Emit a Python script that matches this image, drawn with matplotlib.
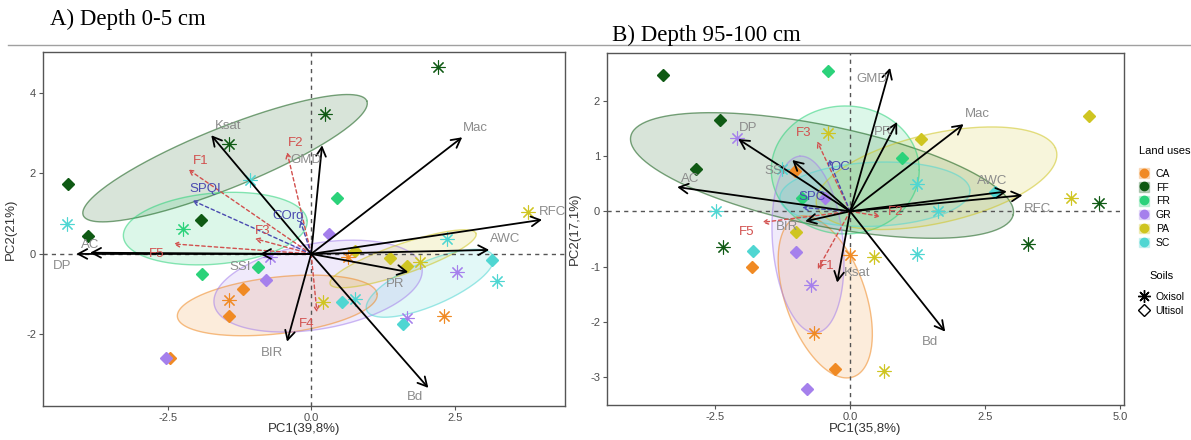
import numpy as np
import matplotlib.pyplot as plt
from matplotlib.lines import Line2D
from matplotlib.patches import Patch

plt.rcParams["font.family"] = ["Liberation Sans", "DejaVu Sans"]

USES = ["CA", "FF", "FR", "GR", "PA", "SC"]
USE_COLORS = {"CA": "#F08A24", "FF": "#0F5A14", "FR": "#2BD27A",
              "GR": "#A580EC", "PA": "#CFC521", "SC": "#4FD6D2"}

# ---- A) depth 0-5 cm : individuals ----
a_use = ["FF", "FF", "FF", "FF", "FF", "FF", "SC", "SC", "FR", "FR", "FR", "FR",
         "GR", "GR", "CA", "CA", "CA", "CA", "GR", "PA", "SC", "SC", "PA", "PA",
         "PA", "PA", "SC", "GR", "SC", "SC", "CA", "GR", "SC", "PA", "GR", "CA"]
a_soil = ["O", "O", "O", "U", "U", "U", "O", "O", "O", "U", "U", "U",
          "U", "U", "U", "O", "U", "U", "U", "O", "U", "O", "U", "U",
          "U", "O", "O", "O", "U", "O", "O", "O", "U", "O", "O", "O"]
a_pc1 = [2.21, 0.24, -1.43, -4.23, -1.92, -3.89, -4.25, -1.06, -2.23, -1.90, -0.92, 0.45,
         0.31, -0.78, -1.18, -1.43, -1.43, -2.46, -2.52, 0.21, 0.54, 0.77, 0.77, 1.38,
         1.67, 1.90, 2.37, 2.54, 3.15, 3.24, 2.32, 1.67, 1.60, 3.78, -0.71, 0.64]
a_pc2 = [4.65, 3.48, 2.73, 1.73, 0.85, 0.45, 0.75, 1.83, 0.63, -0.50, -0.33, 1.38,
         0.50, -0.65, -0.88, -1.15, -1.55, -2.58, -2.58, -1.20, -1.20, -1.13, 0.08, -0.10,
         -0.30, -0.20, 0.38, -0.45, -0.15, -0.68, -1.55, -1.60, -1.73, 1.05, -0.08, -0.08]

# ---- A) variables ----
a_var_names = ["Ksat", "GMD", "Mac", "RFC", "AWC", "PR", "Bd", "BIR", "DP", "AC", "SSI"]
a_var_pc1 = [-1.74, 0.19, 2.63, 4.02, 3.10, 1.69, 2.04, -0.42, -4.09, -3.85, -0.89]
a_var_pc2 = [2.95, 2.70, 2.90, 0.85, 0.10, -0.45, -3.33, -2.18, 0.00, 0.03, 0.00]

a_sup_names = ["F1", "F2", "F3", "F4", "F5", "SPQI", "COrg"]
a_sup_pc1 = [-2.14, -0.42, -0.98, 0.10, -2.40, -2.07, -0.19]
a_sup_pc2 = [2.10, 2.53, 0.38, -1.45, 0.25, 1.33, 0.83]

# concentration ellipses: centre, semi-axis vector, conjugate semi-axis vector
a_ellipses = {
    "FF": ((-1.50, 2.38), (2.47, 1.42), (0.19, -0.70)),
    "FR": ((-1.67, 0.63), (1.60, 0.20), (0.05, -0.88)),
    "GR": ((0.12, -0.80), (1.81, 0.45), (0.12, -1.05)),
    "CA": ((-0.59, -1.28), (1.74, 0.28), (0.05, -0.70)),
    "PA": ((1.60, -0.12), (1.27, 0.63), (0.09, -0.35)),
    "SC": ((2.07, -0.73), (1.10, 0.68), (0.16, -0.50)),
}

# ---- B) depth 95-100 cm : individuals ----
b_use = ["FF", "FR", "FF", "FF", "GR", "PA", "SC", "CA", "SC", "FR", "GR", "PA",
         "FF", "SC", "CA", "GR", "GR", "CA", "CA", "GR", "CA", "PA", "SC", "FF",
         "PA", "PA", "PA", "FF", "PA", "FR", "SC", "SC", "SC"]
b_soil = ["U", "U", "U", "U", "O", "O", "O", "U", "O", "U", "U", "U",
          "O", "U", "U", "U", "O", "O", "U", "U", "O", "O", "O", "O",
          "O", "U", "O", "O", "U", "U", "O", "U", "O"]
b_pc1 = [-3.46, -0.41, -2.41, -2.85, -2.09, -0.41, -2.48, -1.02, -1.26, -0.89, -0.46, -1.00,
         -2.35, -1.80, -1.81, -1.00, -0.72, -0.67, -0.28, -0.80, 0.00, 0.44, 1.24, 3.30,
         0.62, 4.43, 4.08, 4.60, 1.31, 0.96, 1.24, 2.69, 1.63]
b_pc2 = [2.47, 2.55, 1.65, 0.76, 1.33, 1.42, 0.00, 0.73, 0.76, 0.24, 0.24, -0.38,
         -0.65, -0.72, -1.00, -0.73, -1.33, -2.20, -2.85, -3.22, -0.80, -0.82, -0.78, -0.60,
         -2.89, 1.72, 0.25, 0.16, 1.31, 0.96, 0.49, 0.35, 0.00]

b_var_names = ["GMD", "PR", "Mac", "AWC", "RFC", "DP", "AC", "SSI", "Ksat", "Bd", "BIR"]
b_var_pc1 = [0.74, 0.87, 2.10, 2.90, 3.19, -2.07, -3.20, -1.07, -0.24, 1.76, -0.83]
b_var_pc2 = [2.60, 1.62, 1.58, 0.36, 0.29, 1.31, 0.44, 0.93, -1.29, -2.18, -0.18]

b_sup_names = ["F1", "F2", "F3", "F5", "OC", "SPC"]
b_sup_pc1 = [-0.60, 0.56, -0.61, -1.63, -0.40, -0.89]
b_sup_pc2 = [-1.05, -0.09, 1.27, -0.20, 0.95, 0.07]

b_ellipses = {
    "FF": ((-0.52, 0.65), (3.54, -0.71), (0.19, 0.89)),
    "FR": ((-0.09, 0.75), (1.37, 0.00), (0.00, 1.16)),
    "PA": ((1.60, 0.60), (2.20, 0.55), (-0.35, 0.75)),
    "SC": ((0.46, 0.31), (1.76, 0.07), (0.02, -0.58)),
    "GR": ((-0.78, -0.60), (-0.15, 1.60), (0.65, 0.05)),
    "CA": ((-0.46, -1.55), (-0.52, 1.45), (0.70, 0.24)),
}

# label offsets in pixels from the arrow tips
a_var_offsets = {"Ksat": (17, 9), "GMD": (-16, -15), "Mac": (13, 9), "RFC": (10, 8),
                 "AWC": (16, 11), "PR": (-13, -12), "Bd": (-13, -9), "BIR": (-15, -11),
                 "DP": (-14, -12), "AC": (0, 8), "SSI": (-20, -13)}
a_sup_offsets = {"F1": (12, 8), "F2": (9, 9), "F3": (8, 8), "F4": (-10, -12),
                 "F5": (-17, -10), "SPQI": (13, 11), "COrg": (-12, 5)}
b_var_offsets = {"GMD": (-18, -11), "PR": (-14, -10), "Mac": (14, 10), "AWC": (-15, 10),
                 "RFC": (15, -14), "DP": (10, 11), "AC": (13, 8), "SSI": (-17, -11),
                 "Ksat": (20, 10), "Bd": (-15, -10), "BIR": (-18, -6)}
b_sup_offsets = {"F1": (9, 3), "F2": (15, 4), "F3": (-14, 8), "F5": (-15, -10),
                 "OC": (12, -8), "SPC": (10, 10)}

SUP_RED = "#D2504E"
SUP_BLUE = "#4A4AB0"
ASTERISK = (8, 2, 0)


def draw_biplot(ax, use, soil, pc1, pc2, ellipses, var_names, var_pc1, var_pc2,
                var_off, sup_names, sup_pc1, sup_pc2, sup_off, xlim, ylim, xticks, yticks):
    t = np.linspace(0, 2 * np.pi, 240)
    for key in USES:
        (cx, cy), (ax_, ay_), (bx_, by_) = ellipses[key]
        ex = cx + ax_ * np.cos(t) + bx_ * np.sin(t)
        ey = cy + ay_ * np.cos(t) + by_ * np.sin(t)
        col = USE_COLORS[key]
        ax.fill(ex, ey, color=col, alpha=0.16, lw=0, zorder=1)
        ax.plot(ex, ey, color=col, alpha=0.55, lw=1, zorder=1.1)

    ax.axhline(0, color="#555555", lw=1, ls=(0, (3, 3)), zorder=1.5)
    ax.axvline(0, color="#555555", lw=1, ls=(0, (3, 3)), zorder=1.5)

    for u, s, x, y in zip(use, soil, pc1, pc2):
        col = USE_COLORS[u]
        if s == "O":
            ax.plot(x, y, marker=ASTERISK, ms=10, mew=0.8, color=col, zorder=3)
        else:
            ax.plot(x, y, marker="D", ms=6.5, mfc=col, mec=col, lw=0, zorder=3)

    for name, x, y in zip(sup_names, sup_pc1, sup_pc2):
        col = SUP_BLUE if name in ("SPQI", "COrg", "OC", "SPC") else SUP_RED
        ax.annotate("", xy=(x, y), xytext=(0, 0), zorder=4,
                    arrowprops=dict(arrowstyle="->,head_length=0.35,head_width=0.18",
                                    color=col, lw=1, ls=(0, (2.5, 2)),
                                    shrinkA=0, shrinkB=0, mutation_scale=10))
        ax.annotate(name, xy=(x, y), xytext=sup_off[name], textcoords="offset pixels",
                    ha="center", va="center", color=col, fontsize=9.5, zorder=6)

    for name, x, y in zip(var_names, var_pc1, var_pc2):
        ax.annotate("", xy=(x, y), xytext=(0, 0), zorder=5,
                    arrowprops=dict(arrowstyle="->,head_length=0.65,head_width=0.35",
                                    color="black", lw=1.3, shrinkA=0, shrinkB=0,
                                    mutation_scale=10))
        ax.annotate(name, xy=(x, y), xytext=var_off[name], textcoords="offset pixels",
                    ha="center", va="center", color="#8C8C8C", fontsize=9.5, zorder=6)

    ax.set_xlim(*xlim)
    ax.set_ylim(*ylim)
    ax.set_xticks(xticks)
    ax.set_yticks(yticks)
    ax.set_xticklabels([f"{v:.1f}" for v in xticks])
    ax.set_yticklabels([f"{v:g}" for v in yticks])
    ax.tick_params(colors="#555555", labelsize=8, length=3, pad=2, labelcolor="#4D4D4D")
    for sp in ax.spines.values():
        sp.set_color("#555555")
        sp.set_linewidth(1)


fig = plt.figure(figsize=(11.91, 4.40), dpi=100)
ax_a = fig.add_axes([43 / 1191, 1 - 406 / 440, 522 / 1191, 354 / 440])
ax_b = fig.add_axes([607 / 1191, 1 - 405 / 440, 517 / 1191, 352 / 440])

draw_biplot(ax_a, a_use, a_soil, a_pc1, a_pc2, a_ellipses,
            a_var_names, a_var_pc1, a_var_pc2, a_var_offsets,
            a_sup_names, a_sup_pc1, a_sup_pc2, a_sup_offsets,
            (-4.67, 4.42), (-3.78, 5.02), [-2.5, 0.0, 2.5], [-2, 0, 2, 4])
draw_biplot(ax_b, b_use, b_soil, b_pc1, b_pc2, b_ellipses,
            b_var_names, b_var_pc1, b_var_pc2, b_var_offsets,
            b_sup_names, b_sup_pc1, b_sup_pc2, b_sup_offsets,
            (-4.5, 5.07), (-3.51, 2.87), [-2.5, 0.0, 2.5, 5.0], [-3, -2, -1, 0, 1, 2])

ax_a.set_xlabel("PC1(39,8%)", fontsize=9.5, color="#333333")
ax_a.set_ylabel("PC2(21%)", fontsize=9.5, color="#333333")
ax_b.set_xlabel("PC1(35,8%)", fontsize=9.5, color="#333333")
ax_b.set_ylabel("PC2(17,1%)", fontsize=9.5, color="#333333")
ax_a.xaxis.set_label_coords(0.5, -0.047)
ax_b.xaxis.set_label_coords(0.5, -0.05)
ax_a.yaxis.set_label_coords(-0.05, 0.5)
ax_b.yaxis.set_label_coords(-0.051, 0.5)

fig.text(50 / 1191, 1 - 19 / 440, "A) Depth 0-5 cm", family="Liberation Serif",
         fontsize=16.5, va="center", ha="left")
fig.text(612 / 1191, 1 - 35 / 440, "B) Depth 95-100 cm", family="Liberation Serif",
         fontsize=16.5, va="center", ha="left")
fig.add_artist(Line2D([8 / 1191, 1], [1 - 45 / 440, 1 - 45 / 440],
                      color="#A0A0A0", lw=1, transform=fig.transFigure))

# legends
use_handles = [(Patch(facecolor=USE_COLORS[u], alpha=0.25, edgecolor=USE_COLORS[u]),
                Line2D([], [], marker="o", ls="", ms=6, color=USE_COLORS[u]))
               for u in USES]
leg1 = fig.legend(use_handles, USES, title="Land uses", loc="upper left",
                  bbox_to_anchor=(1139 / 1191, 1 - 146 / 440), frameon=False,
                  fontsize=7.5, title_fontsize=8, handlelength=1.0, handleheight=1.0,
                  labelspacing=0.35, handletextpad=0.6, borderaxespad=0, borderpad=0)
leg1._legend_box.align = "left"
leg1._legend_box.sep = 9

soil_handles = [Line2D([], [], marker=ASTERISK, ls="", ms=9, mew=1, color="black"),
                Line2D([], [], marker="D", ls="", ms=6, mfc="white", mec="black")]
leg2 = fig.legend(soil_handles, ["Oxisol", "Ultisol"], title="Soils", loc="upper left",
                  bbox_to_anchor=(1139 / 1191, 1 - 271 / 440), frameon=False,
                  fontsize=7.5, title_fontsize=8, handlelength=1.0,
                  labelspacing=0.35, handletextpad=0.6, borderaxespad=0, borderpad=0)
leg2._legend_box.sep = 8

fig.savefig("out.png", dpi=100)
